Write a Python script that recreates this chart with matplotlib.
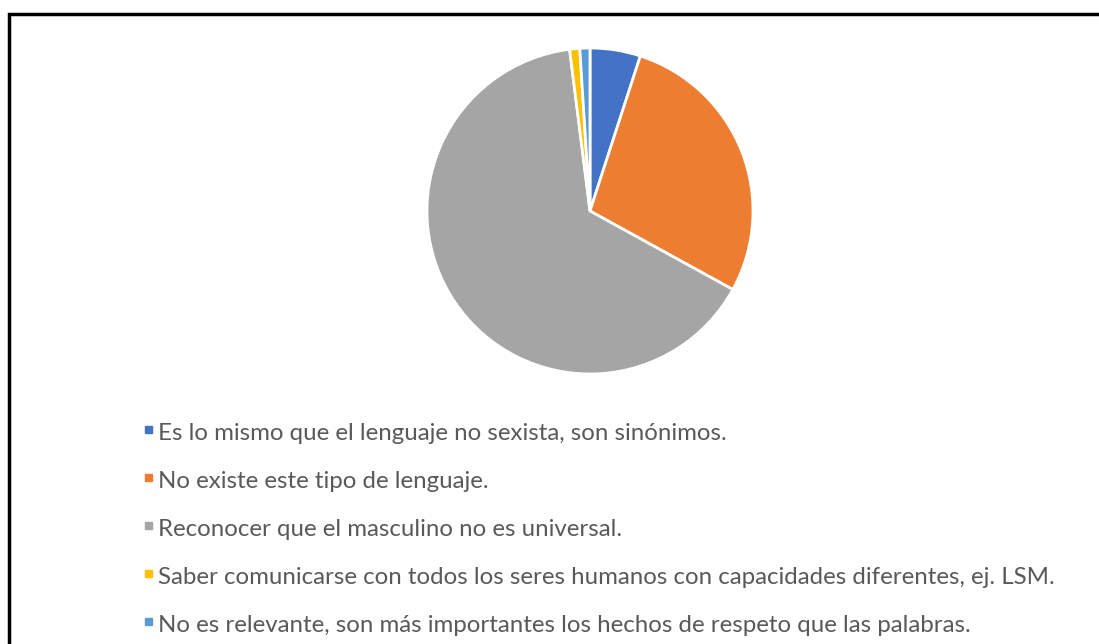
import matplotlib.pyplot as plt
from matplotlib.patches import Rectangle

labels = [
    "Es lo mismo que el lenguaje no sexista, son sinónimos.",
    "No existe este tipo de lenguaje.",
    "Reconocer que el masculino no es universal.",
    "Saber comunicarse con todos los seres humanos con capacidades diferentes, ej. LSM.",
    "No es relevante, son más importantes los hechos de respeto que las palabras.",
]
values = [5, 28, 65, 1, 1]
colors = ["#4472C4", "#ED7D31", "#A5A5A5", "#FFC000", "#5B9BD5"]

W, H = 1099, 644
fig = plt.figure(figsize=(W / 100, H / 100), dpi=100)
fig.patch.set_facecolor("white")

# pie centred at (590, 211) px with radius 163 px
cx, cy, r = 590, 211, 163
ax = fig.add_axes([(cx - r) / W, (H - cy - r) / H, 2 * r / W, 2 * r / H])
ax.pie(values, colors=colors, startangle=90, counterclock=False, radius=1,
       wedgeprops=dict(edgecolor="white", linewidth=2))
ax.set_xlim(-1, 1)
ax.set_ylim(-1, 1)
ax.set_aspect("equal")
ax.axis("off")

# legend rows (baselines in px from the top)
baselines = [440, 488, 536, 584, 632]
for lab, col, y in zip(labels, colors, baselines):
    fig.patches.append(Rectangle((145 / W, (H - y + 7) / H), 7 / W, 7 / H,
                                 transform=fig.transFigure, color=col))
    fig.text(158 / W, (H - y) / H, lab, fontsize=17.3, color="#595959",
             family="Lato", va="baseline", ha="left")

# outer frame
fig.patches.append(Rectangle((9 / W, -0.05), 1.1, (H - 14) / H + 0.05,
                             transform=fig.transFigure, fill=False,
                             edgecolor="black", linewidth=2.5))

fig.savefig("out.png", dpi=100)
